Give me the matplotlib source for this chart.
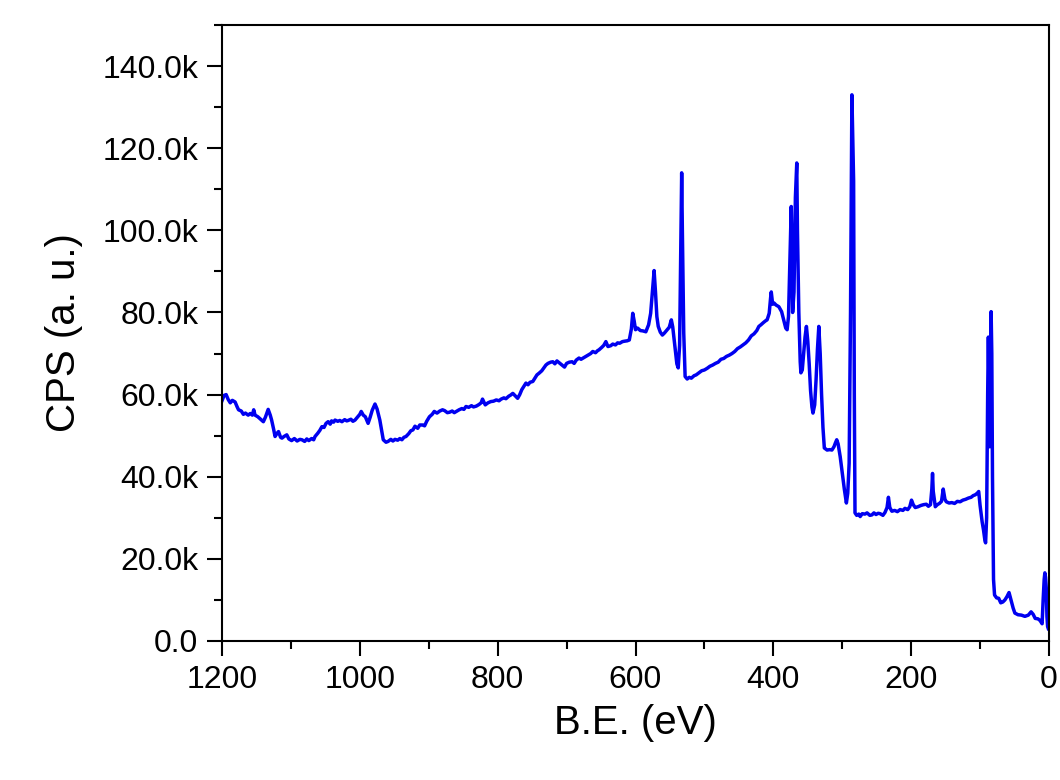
import matplotlib
matplotlib.use("Agg")
import matplotlib.pyplot as plt
from matplotlib.ticker import FuncFormatter, MultipleLocator

plt.rcParams["font.family"] = ["Liberation Sans", "DejaVu Sans"]

# XPS survey spectrum: binding energy (eV) and counts per second (thousands)
binding_energy = [
    1200, 1197, 1194, 1191, 1188, 1185, 1181, 1178, 1176, 1172, 1169, 1166,
    1162, 1159, 1156, 1154, 1152, 1148, 1144, 1140, 1137, 1133, 1130, 1128,
    1125, 1123, 1120, 1118, 1115, 1113, 1110, 1106, 1103, 1099, 1095, 1091,
    1087, 1084, 1080, 1077, 1074, 1070, 1067, 1065, 1061, 1058, 1055, 1052,
    1049, 1046, 1043, 1041, 1038, 1036, 1032, 1029, 1026, 1022, 1019, 1017,
    1013, 1010, 1007, 1003, 1000, 998, 995, 992, 988, 985, 982, 978, 975,
    971, 968, 966, 962, 959, 955, 952, 949, 945, 942, 939, 936, 933, 929,
    926, 923, 920, 916, 913, 909, 906, 903, 899, 895, 892, 888, 884, 880,
    877, 873, 870, 866, 863, 860, 856, 852, 849, 846, 842, 838, 835, 831,
    827, 824, 822, 820, 818, 814, 810, 806, 802, 798, 795, 791, 788, 784,
    781, 778, 775, 771, 768, 765, 762, 759, 756, 753, 749, 746, 743, 740,
    736, 733, 730, 727, 723, 720, 717, 714, 711, 707, 703, 700, 696, 692,
    689, 686, 682, 679, 675, 672, 669, 665, 662, 658, 655, 653, 649, 646,
    643, 640, 636, 633, 629, 626, 623, 619, 616, 612, 609, 606, 604, 602,
    600, 597, 593, 589, 585, 581, 578, 575, 573, 571, 569, 567, 564, 561,
    558, 554, 551, 548, 546, 543, 540, 538, 536, 534, 533, 532, 530, 528,
    525, 522, 519, 515, 512, 508, 504, 500, 496, 492, 488, 484, 480, 476,
    472, 468, 464, 460, 456, 452, 448, 444, 440, 436, 432, 428, 424, 421,
    418, 414, 411, 409, 406, 404, 403, 401, 399, 396, 392, 388, 385, 382,
    380, 378, 376, 374, 373, 372, 370, 368, 366, 365, 363, 361, 360, 358,
    356, 354, 352, 350, 348, 346, 344, 342.5, 340, 338, 336, 334, 332, 330,
    328, 326, 322, 318, 315, 312, 310, 308, 306, 303, 300, 297, 294, 292,
    290, 288, 286, 285, 283.5, 282.5, 281.5, 279, 276, 274, 271, 267, 264,
    260, 257, 254, 251, 248, 245, 241, 238, 235, 233, 231, 228, 224, 220,
    216, 212, 209, 205, 202, 199.5, 197, 194, 190, 186, 182, 178, 175, 172,
    170, 169, 168, 165, 162, 159, 156, 153.5, 151, 149, 145, 141, 137, 133,
    129, 125, 121, 117, 113, 110, 107, 104, 102, 100, 97, 95, 93, 92, 90.5,
    89, 88, 87, 86, 85, 84, 83, 82, 80.5, 79, 76, 73, 70, 67, 64, 61, 58,
    55.5, 52, 49.5, 45, 40, 35, 30, 26, 23, 20, 16, 13, 10, 8.5, 7, 6, 5,
    4, 3, 2, 1,
]
cps_k = [
    58.5, 59.8, 60.0, 58.8, 58.0, 58.6, 58.2, 57.0, 56.3, 56.0, 55.2, 55.5,
    55.0, 55.4, 55.0, 56.3, 55.0, 54.6, 54.0, 53.4, 54.5, 56.4, 55.0, 53.8,
    51.5, 49.8, 50.6, 51.0, 49.6, 49.4, 49.8, 50.2, 49.2, 48.8, 49.3, 48.7,
    49.1, 49.0, 48.6, 49.2, 48.8, 49.3, 49.0, 49.8, 50.6, 51.3, 52.2, 52.0,
    53.0, 53.4, 52.8, 53.6, 53.3, 53.8, 53.5, 53.7, 53.4, 53.9, 53.6, 53.7,
    54.0, 53.5, 53.8, 54.6, 55.2, 55.9, 55.0, 54.6, 53.0, 54.5, 56.2, 57.7,
    56.5, 53.8, 51.0, 49.0, 48.4, 48.6, 49.1, 48.7, 49.1, 48.9, 49.3, 49.0,
    49.6, 49.8, 50.5, 51.2, 51.4, 52.3, 51.8, 52.6, 52.6, 52.4, 53.5, 54.6,
    55.2, 55.9, 55.5, 56.0, 56.3, 56.1, 55.6, 55.7, 56.0, 55.6, 55.9, 56.3,
    56.6, 56.4, 57.1, 56.9, 57.3, 57.0, 57.2, 57.6, 58.0, 58.9, 58.2, 57.5,
    58.0, 58.3, 58.4, 58.7, 58.5, 58.9, 59.2, 59.0, 59.6, 59.9, 60.3, 59.8,
    59.1, 60.0, 61.2, 62.0, 62.8, 62.4, 63.0, 63.2, 64.0, 64.8, 65.2, 65.8,
    66.5, 67.2, 67.6, 67.9, 68.0, 67.5, 68.2, 67.8, 67.3, 66.7, 67.6, 67.9,
    68.0, 67.6, 68.4, 68.9, 68.6, 69.0, 69.3, 69.6, 70.0, 70.5, 70.2, 70.7,
    70.9, 71.5, 72.0, 72.9, 71.7, 71.9, 72.3, 72.1, 72.6, 72.5, 72.9, 73.0,
    73.1, 73.3, 76.0, 79.8, 78.0, 75.8, 76.2, 75.6, 75.5, 75.3, 77.0, 79.8,
    86.0, 90.2, 85.0, 79.0, 76.6, 75.2, 74.5, 75.0, 75.8, 76.4, 78.2, 76.5,
    72.0, 67.5, 66.5, 72.0, 100.0, 114.0, 100.0, 75.0, 64.4, 63.8, 64.2,
    64.0, 64.6, 64.8, 65.3, 65.8, 66.0, 66.4, 66.9, 67.2, 67.6, 67.9, 68.6,
    68.8, 69.3, 69.6, 70.0, 70.5, 71.2, 71.6, 72.1, 72.6, 73.3, 74.3, 74.8,
    75.6, 76.6, 77.0, 77.6, 78.0, 78.2, 79.8, 83.5, 85.0, 82.0, 82.3, 81.8,
    81.4, 80.2, 78.2, 76.2, 75.8, 79.0, 92.0, 105.8, 95.0, 80.0, 85.0, 108.0,
    116.4, 100.0, 80.0, 68.0, 65.3, 66.0, 70.0, 74.0, 76.6, 73.0, 67.6, 61.0,
    57.0, 55.5, 57.5, 63.6, 71.0, 76.6, 70.0, 60.0, 52.0, 47.0, 46.5, 46.6,
    46.5, 47.3, 48.2, 49.0, 48.0, 44.9, 41.0, 37.0, 33.6, 36.0, 43.3, 80.0,
    133.0, 125.0, 112.0, 60.0, 31.2, 30.6, 30.9, 30.3, 31.0, 30.9, 31.2,
    30.6, 30.7, 31.2, 30.8, 31.1, 31.0, 30.6, 31.3, 32.5, 35.0, 32.5, 31.6,
    31.8, 31.5, 32.0, 31.8, 32.3, 32.0, 32.7, 34.3, 33.2, 32.5, 32.7, 33.0,
    33.2, 33.3, 32.8, 33.2, 37.0, 40.8, 36.5, 32.7, 33.2, 33.5, 34.0, 37.0,
    34.5, 33.9, 33.6, 33.7, 33.5, 34.0, 33.9, 34.3, 34.5, 34.8, 35.0, 35.4,
    35.6, 36.0, 36.4, 33.0, 29.0, 27.0, 24.5, 23.9, 30.0, 60.0, 74.0, 60.0,
    47.3, 65.0, 80.2, 70.0, 40.0, 15.0, 11.2, 10.5, 10.4, 9.3, 9.5, 10.0,
    10.8, 11.8, 10.2, 8.0, 6.8, 6.4, 6.3, 6.0, 6.3, 7.1, 6.5, 5.5, 5.4, 5.0,
    4.2, 10.0, 15.0, 16.6, 15.5, 13.0, 6.0, 3.5, 3.0,
]

x_ticks = [1200, 1000, 800, 600, 400, 200, 0]
y_ticks = [0, 20000, 40000, 60000, 80000, 100000, 120000, 140000]

cps = [v * 1000 for v in cps_k]

fig = plt.figure(figsize=(10.6, 7.8), dpi=100)
ax = fig.add_axes([222 / 1060, 1 - 641 / 780, 827 / 1060, 616 / 780])

ax.plot(binding_energy, cps, color="#0000f0", linewidth=2.5,
        solid_joinstyle="round")

ax.set_xlim(1200, 0)
ax.set_ylim(0, 150000)
ax.set_xticks(x_ticks)
ax.set_yticks(y_ticks)
ax.xaxis.set_minor_locator(MultipleLocator(100))
ax.yaxis.set_minor_locator(MultipleLocator(10000))
ax.yaxis.set_major_formatter(
    FuncFormatter(lambda v, _: "0.0" if v == 0 else f"{v / 1000:.1f}k"))

ax.tick_params(which="both", direction="out", width=1.5, labelsize=23,
               top=False, right=False)
ax.tick_params(which="major", length=11, pad=6)
ax.tick_params(which="minor", length=6)
for spine in ax.spines.values():
    spine.set_linewidth(1.5)

ax.set_xlabel("B.E. (eV)", fontsize=29)
ax.set_ylabel("CPS (a. u.)", fontsize=29)
ax.xaxis.set_label_coords(0.5, -0.103, transform=ax.transAxes)
ax.yaxis.set_label_coords(-0.168, 0.5, transform=ax.transAxes)
ax.xaxis.label.set_va("top")
ax.yaxis.label.set_va("bottom")

fig.savefig("out.png", dpi=100, facecolor="white")
